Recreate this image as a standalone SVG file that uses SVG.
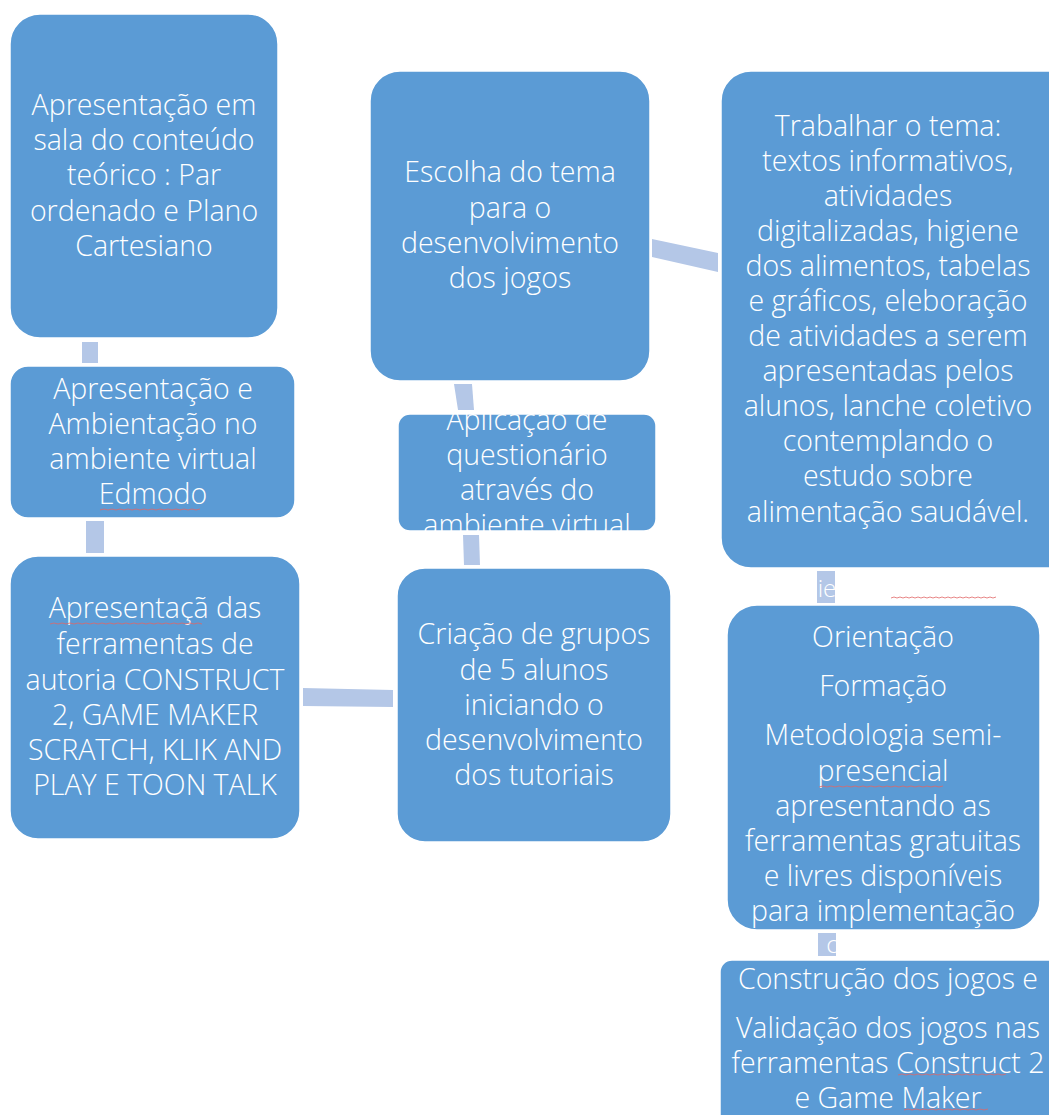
<svg xmlns="http://www.w3.org/2000/svg" width="1049" height="1115" viewBox="0 0 1049 1115">
<style>
.box{fill:#5B9BD5;stroke:#fff;stroke-width:1.5}
.con{fill:#B4C7E7}
text{font-family:"Open Sans","Noto Sans",sans-serif;font-weight:300;font-size:28.5px;fill:#fff;text-anchor:middle}
text.frag{font-size:24px}
.sq{fill:none;stroke:#E06666;stroke-width:1;opacity:0.8}
</style>
<defs>
<clipPath id="clipE"><rect x="398" y="414" width="258" height="117" rx="12"/></clipPath>
<clipPath id="clipGH"><rect x="817" y="571" width="18" height="32"/></clipPath>
<clipPath id="clipHI"><rect x="818" y="933" width="18" height="23"/></clipPath>
</defs>
<rect width="1049" height="1115" fill="#fff"/>
<g id="connectors">
<rect class="con" x="82" y="342" width="16" height="21"/>
<rect class="con" x="86" y="521" width="18" height="32"/>
<polygon class="con" points="303,688 393,690 393,707 303,706"/>
<polygon class="con" points="463,535 479,535 480,565 464,565"/>
<polygon class="con" points="454,384 472,384 474,410 458,410"/>
<polygon class="con" points="652,239 718,253 718,272 652,257"/>
<rect class="con" x="817" y="571" width="18" height="32"/>
<text class="frag" x="827" y="597" clip-path="url(#clipGH)">ie</text>
<rect class="con" x="818" y="933" width="18" height="23"/>
<text class="frag" x="832" y="953" clip-path="url(#clipHI)">c</text>
<path class="sq" d="M891,598 l3,-1 3,1 3,-1 3,1 3,-1 3,1 3,-1 3,1 3,-1 3,1 3,-1 3,1 3,-1 3,1 3,-1 3,1 3,-1 3,1 3,-1 3,1 3,-1 3,1 3,-1 3,1 3,-1 3,1 3,-1 3,1 3,-1 3,1 3,-1 3,1 3,-1 3,1 3,-1"/>
</g>
<g id="nodeA">
<rect class="box" x="10" y="14" width="268" height="324" rx="30"/>
<text x="144" y="115">Apresentação em</text>
<text x="144" y="150">sala do conteúdo</text>
<text x="144" y="185">teórico : Par</text>
<text x="144" y="221">ordenado e Plano</text>
<text x="144" y="256">Cartesiano</text>
</g>
<g id="nodeB">
<rect class="box" x="10" y="366" width="285" height="152" rx="18"/>
<text x="153" y="399">Apresentação e</text>
<text x="153" y="434">Ambientação no</text>
<text x="153" y="469">ambiente virtual</text>
<text x="153" y="504">Edmodo</text>
<path class="sq" d="M100,510 l4,-1 4,1 4,-1 4,1 4,-1 4,1 4,-1 4,1 4,-1 4,1 4,-1 4,1 4,-1 4,1 4,-1 4,1 4,-1 4,1 4,-1 4,1 4,-1 4,1 4,-1 4,1 4,-1"/>
</g>
<g id="nodeC">
<rect class="box" x="10" y="556" width="290" height="283" rx="28"/>
<text x="155" y="618">Apresentaçã das</text>
<text x="155" y="654">ferramentas de</text>
<text x="155" y="690">autoria CONSTRUCT</text>
<text x="155" y="725">2, GAME MAKER</text>
<text x="155" y="760">SCRATCH, KLIK AND</text>
<text x="155" y="795">PLAY E TOON TALK</text>
<path class="sq" d="M50,624 l4,-1 4,1 4,-1 4,1 4,-1 4,1 4,-1 4,1 4,-1 4,1 4,-1 4,1 4,-1 4,1 4,-1 4,1 4,-1 4,1 4,-1 4,1 4,-1 4,1 4,-1 4,1 4,-1 4,1 4,-1 4,1 4,-1 4,1 4,-1 4,1 4,-1 4,1 4,-1 4,1 4,-1 4,1"/>
</g>
<g id="nodeD">
<rect class="box" x="397" y="568" width="274" height="274" rx="28"/>
<text x="534" y="644">Criação de grupos</text>
<text x="534" y="680">de 5 alunos</text>
<text x="534" y="715">iniciando o</text>
<text x="534" y="750">desenvolvimento</text>
<text x="534" y="785">dos tutoriais</text>
</g>
<g id="nodeE">
<rect class="box" x="398" y="414" width="258" height="117" rx="12"/>
<g clip-path="url(#clipE)">
<text x="527" y="430">Aplicação de</text>
<text x="527" y="465">questionário</text>
<text x="527" y="500">através do</text>
<text x="527" y="535">ambiente virtual</text>
</g>
</g>
<g id="nodeF">
<rect class="box" x="370" y="71" width="280" height="310" rx="30"/>
<text x="510" y="182">Escolha do tema</text>
<text x="510" y="218">para o</text>
<text x="510" y="253">desenvolvimento</text>
<text x="510" y="288">dos jogos</text>
</g>
<g id="nodeG">
<rect class="box" x="721" y="71" width="360" height="497" rx="30"/>
<text x="888" y="136">Trabalhar o tema:</text>
<text x="888" y="171">textos informativos,</text>
<text x="888" y="206">atividades</text>
<text x="888" y="241">digitalizadas, higiene</text>
<text x="888" y="276">dos alimentos, tabelas</text>
<text x="888" y="311">e gráficos, eleboração</text>
<text x="888" y="346">de atividades a serem</text>
<text x="888" y="381">apresentadas pelos</text>
<text x="888" y="416">alunos, lanche coletivo</text>
<text x="888" y="451">contemplando o</text>
<text x="888" y="486">estudo sobre</text>
<text x="888" y="522">alimentação saudável.</text>
</g>
<g id="nodeH">
<rect class="box" x="727" y="605" width="313" height="325" rx="30"/>
<text x="883" y="647">Orientação</text>
<text x="883" y="696">Formação</text>
<text x="883" y="745">Metodologia semi-</text>
<text x="883" y="781">presencial</text>
<text x="883" y="816">apresentando as</text>
<text x="883" y="851">ferramentas gratuitas</text>
<text x="883" y="886">e livres disponíveis</text>
<text x="883" y="921">para implementação</text>
<path class="sq" d="M819,787 l4,-1 4,1 4,-1 4,1 4,-1 4,1 4,-1 4,1 4,-1 4,1 4,-1 4,1 4,-1 4,1 4,-1 4,1 4,-1 4,1 4,-1 4,1 4,-1 4,1 4,-1 4,1 4,-1 4,1 4,-1 4,1 4,-1 4,1 4,-1"/>
</g>
<g id="nodeI">
<rect class="box" x="720" y="960" width="360" height="170" rx="12"/>
<text x="888" y="989">Construção dos jogos e</text>
<text x="888" y="1038">Validação dos jogos nas</text>
<text x="888" y="1073">ferramentas Construct 2</text>
<text x="888" y="1108">e Game Maker</text>
<path class="sq" d="M898,1075 l4,-1 4,1 4,-1 4,1 4,-1 4,1 4,-1 4,1 4,-1 4,1 4,-1 4,1 4,-1 4,1 4,-1 4,1 4,-1 4,1 4,-1 4,1 4,-1 4,1 4,-1 4,1 4,-1 4,1 4,-1"/>
<path class="sq" d="M904,1110 l4,-1 4,1 4,-1 4,1 4,-1 4,1 4,-1 4,1 4,-1 4,1 4,-1 4,1 4,-1 4,1 4,-1 4,1 4,-1 4,1 4,-1 4,1 4,-1"/>
</g>
</svg>
